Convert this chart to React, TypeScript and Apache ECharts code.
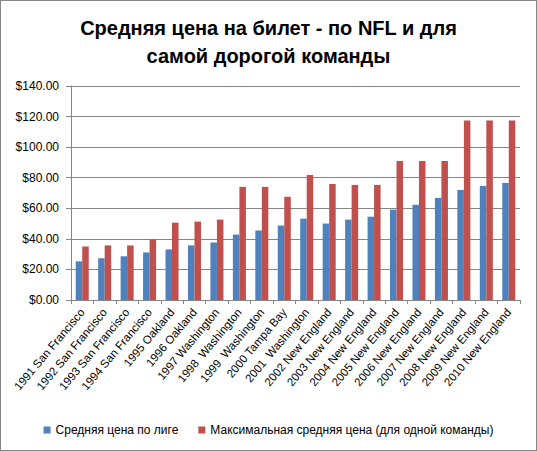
import React, { useEffect, useRef } from "react";
import * as echarts from "echarts";

const categories = [
  "1991 San Francisco",
  "1992 San Francisco",
  "1993 San Francisco",
  "1994 San Francisco",
  "1995 Oakland",
  "1996 Oakland",
  "1997 Washington",
  "1998  Washington",
  "1999  Washington",
  "2000 Tampa Bay",
  "2001  Washington",
  "2002 New England",
  "2003 New England",
  "2004 New England",
  "2005 New England",
  "2006 New England",
  "2007 New England",
  "2008 New England",
  "2009 New England",
  "2010 New England",
];

const leagueAvg = [25.3, 27.3, 28.6, 31.1, 33.1, 35.7, 37.6, 42.8, 45.4, 48.7, 53.2, 50.0, 52.6, 54.5, 59.1, 62.3, 66.8, 72.0, 74.6, 76.6];
const maxAvg = [35.0, 35.7, 35.7, 39.6, 50.6, 51.3, 52.6, 74.0, 74.0, 67.5, 81.8, 75.9, 75.3, 75.3, 90.9, 90.9, 90.9, 117.5, 117.5, 117.5];

const seriesNames = ["Средняя цена по лиге", "Максимальная средняя цена (для одной команды)"];
const titleText = "Средняя цена на билет - по NFL и для\nсамой дорогой команды";

export default function App() {
  const ref = useRef<HTMLDivElement>(null);
  useEffect(() => {
    if (!ref.current) return;
    const chart = echarts.init(ref.current, null, { renderer: "svg" });
    const font = "Liberation Sans";
    chart.setOption({
      animation: false,
      backgroundColor: "#ffffff",
      title: {
        text: titleText,
        left: "center",
        top: 8,
        textStyle: { fontFamily: font, fontWeight: "bold", fontSize: 20, color: "#000", lineHeight: 28 },
      },
      legend: {
        bottom: 9,
        left: "center",
        icon: "rect",
        itemWidth: 7,
        itemHeight: 7,
        itemGap: 20,
        textStyle: { fontFamily: font, fontSize: 12, color: "#000" },
        data: seriesNames,
      },
      grid: { left: 70, right: 16, top: 85, bottom: 150, containLabel: false },
      xAxis: {
        type: "category",
        data: categories,
        axisLine: { lineStyle: { color: "#868686", width: 1 } },
        axisTick: { show: true, length: 4, lineStyle: { color: "#868686" } },
        axisLabel: { rotate: 50, interval: 0, fontFamily: font, fontSize: 11.5, color: "#000", margin: 10 },
      },
      yAxis: {
        type: "value",
        min: 0,
        max: 140,
        interval: 20,
        axisLine: { show: true, lineStyle: { color: "#868686" } },
        axisTick: { show: true, length: 5, lineStyle: { color: "#868686" } },
        splitLine: { lineStyle: { color: "#868686", width: 1 } },
        axisLabel: {
          fontFamily: font,
          fontSize: 12,
          color: "#000",
          margin: 12,
          formatter: (v: number) => "$" + v.toFixed(2),
        },
      },
      series: [
        {
          name: seriesNames[0],
          type: "bar",
          data: leagueAvg,
          itemStyle: { color: "#4F81BD" },
          barGap: "0%",
          barCategoryGap: "42%",
        },
        {
          name: seriesNames[1],
          type: "bar",
          data: maxAvg,
          itemStyle: { color: "#C0504D" },
          barGap: "0%",
          barCategoryGap: "42%",
        },
      ],
    });
    return () => chart.dispose();
  }, []);
  return (
    <div
      style={{
        position: "fixed",
        left: 0,
        top: 0,
        width: 537,
        height: 451,
        boxSizing: "border-box",
        border: "1px solid #868686",
        background: "#fff",
      }}
    >
      <div ref={ref} style={{ width: 535, height: 449 }} />
    </div>
  );
}
